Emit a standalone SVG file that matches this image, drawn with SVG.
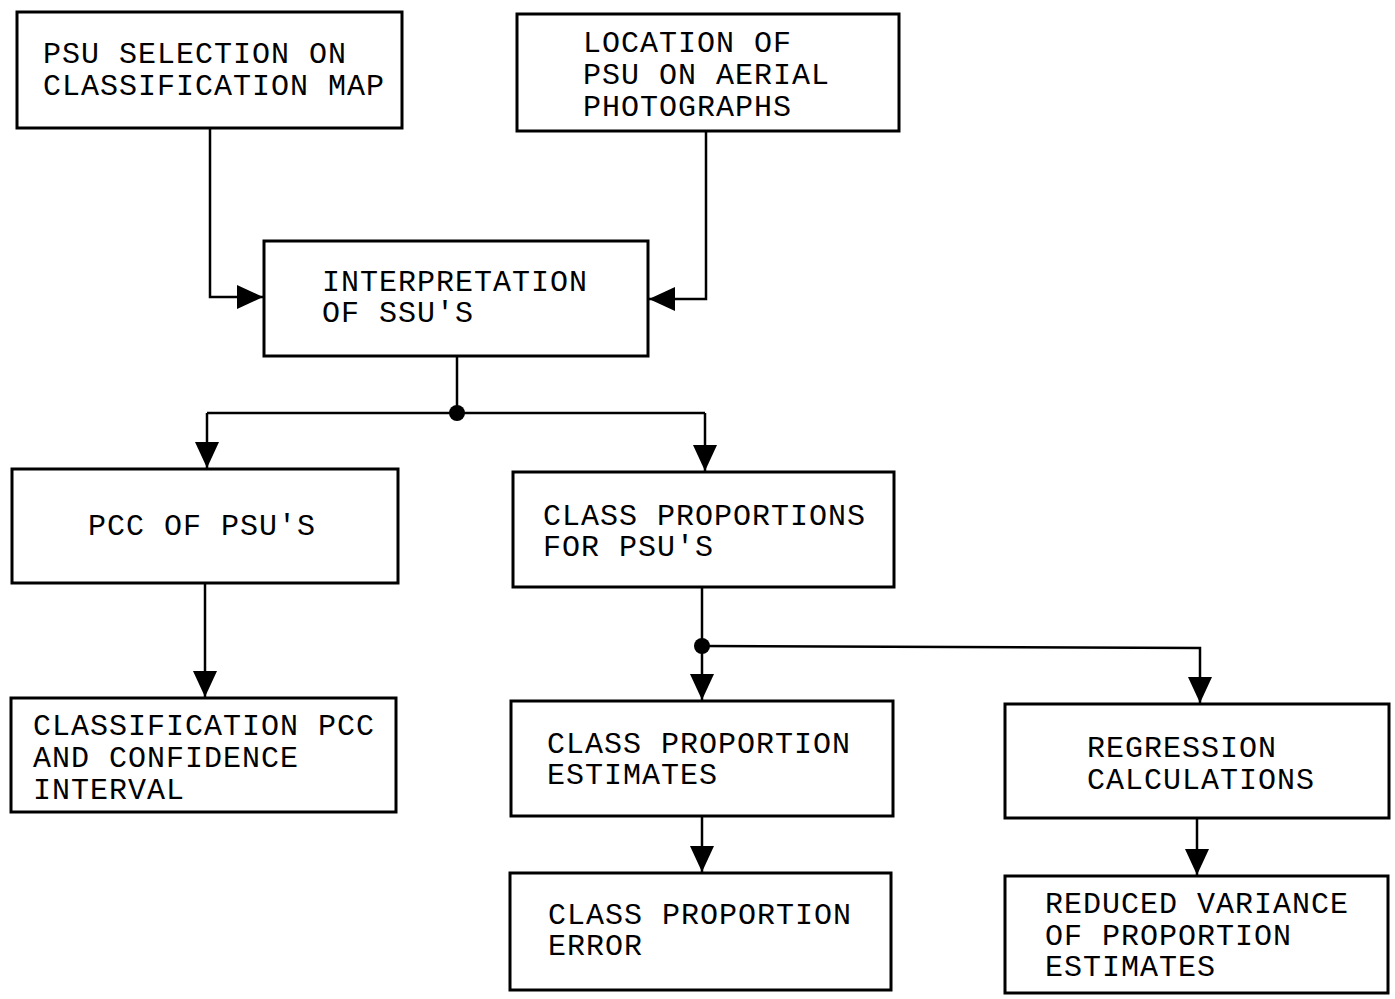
<svg xmlns="http://www.w3.org/2000/svg" width="1395" height="999" viewBox="0 0 1395 999">
<style>
.box{fill:#fff;stroke:#000;stroke-width:3}
.t{font-family:"Liberation Mono","DejaVu Sans Mono",monospace;font-size:30px;letter-spacing:1px;fill:#000}
.ln{fill:none;stroke:#000;stroke-width:2.5}
.dot{fill:#000}
</style>
<defs>
<marker id="ah" viewBox="0 0 26 24" refX="26" refY="12" markerWidth="26" markerHeight="24" markerUnits="userSpaceOnUse" orient="auto">
<path d="M0,0 L26,12 L0,24 Z" fill="#000"/>
</marker>
</defs>
<rect width="1395" height="999" fill="#fff"/>
<g id="connectors">
<path class="ln" d="M210,128 V297 H263" marker-end="url(#ah)"/>
<path class="ln" d="M706,131 V299 H649" marker-end="url(#ah)"/>
<path class="ln" d="M457,356 V413"/>
<path class="ln" d="M207,413 H705"/>
<path class="ln" d="M207,413 V468" marker-end="url(#ah)"/>
<path class="ln" d="M705,413 V471" marker-end="url(#ah)"/>
<circle class="dot" cx="457" cy="413" r="8"/>
<path class="ln" d="M205,583 V697" marker-end="url(#ah)"/>
<path class="ln" d="M702,587 V700" marker-end="url(#ah)"/>
<path class="ln" d="M702,646 L1200,648 V703" marker-end="url(#ah)"/>
<circle class="dot" cx="702" cy="646" r="8"/>
<path class="ln" d="M702,816 V872" marker-end="url(#ah)"/>
<path class="ln" d="M1197,818 V875" marker-end="url(#ah)"/>
</g>
<g id="n1"><rect class="box" x="17" y="12" width="385" height="116"/>
<text class="t" x="43" y="63">PSU SELECTION ON</text><text class="t" x="43" y="95">CLASSIFICATION MAP</text></g>
<g id="n2"><rect class="box" x="517" y="14" width="382" height="117"/>
<text class="t" x="583" y="52">LOCATION OF</text><text class="t" x="583" y="84">PSU ON AERIAL</text><text class="t" x="583" y="116">PHOTOGRAPHS</text></g>
<g id="n3"><rect class="box" x="264" y="241" width="384" height="115"/>
<text class="t" x="322" y="291">INTERPRETATION</text><text class="t" x="322" y="322">OF SSU'S</text></g>
<g id="n4"><rect class="box" x="12" y="469" width="386" height="114"/>
<text class="t" x="88" y="535">PCC OF PSU'S</text></g>
<g id="n5"><rect class="box" x="513" y="472" width="381" height="115"/>
<text class="t" x="543" y="525">CLASS PROPORTIONS</text><text class="t" x="543" y="556">FOR PSU'S</text></g>
<g id="n6"><rect class="box" x="11" y="698" width="385" height="114"/>
<text class="t" x="33" y="735">CLASSIFICATION PCC</text><text class="t" x="33" y="767">AND CONFIDENCE</text><text class="t" x="33" y="799">INTERVAL</text></g>
<g id="n7"><rect class="box" x="511" y="701" width="382" height="115"/>
<text class="t" x="547" y="753">CLASS PROPORTION</text><text class="t" x="547" y="784">ESTIMATES</text></g>
<g id="n8"><rect class="box" x="1005" y="704" width="384" height="114"/>
<text class="t" x="1087" y="757">REGRESSION</text><text class="t" x="1087" y="789">CALCULATIONS</text></g>
<g id="n9"><rect class="box" x="510" y="873" width="381" height="117"/>
<text class="t" x="548" y="924">CLASS PROPORTION</text><text class="t" x="548" y="955">ERROR</text></g>
<g id="n10"><rect class="box" x="1005" y="876" width="383" height="117"/>
<text class="t" x="1045" y="913">REDUCED VARIANCE</text><text class="t" x="1045" y="945">OF PROPORTION</text><text class="t" x="1045" y="976">ESTIMATES</text></g>
</svg>
